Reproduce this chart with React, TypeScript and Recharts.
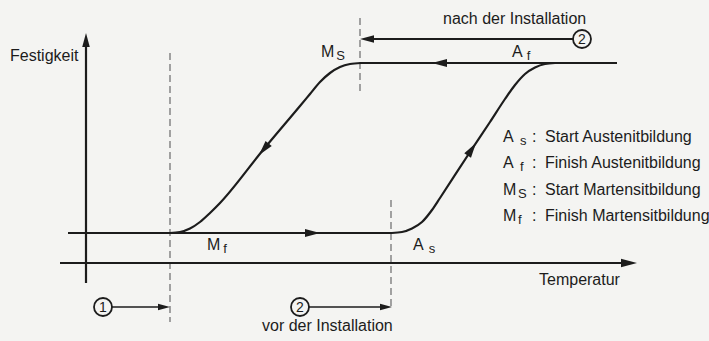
import { ComposedChart, Line, Scatter, XAxis, YAxis } from "recharts";

// Schematic coordinates of the diagram (x grows with temperature, y grows downward like the picture)
const coolingCurve = [
  { x: 170, y: 233 }, { x: 180, y: 232 }, { x: 190, y: 228.5 }, { x: 200, y: 222 },
  { x: 210, y: 213 }, { x: 220, y: 203 }, { x: 263, y: 150 }, { x: 300, y: 106 },
  { x: 310, y: 94 }, { x: 320, y: 82 }, { x: 330, y: 73 }, { x: 340, y: 67 },
  { x: 350, y: 64 }, { x: 361, y: 63 },
];
const heatingCurve = [
  { x: 392, y: 233 }, { x: 402, y: 232 }, { x: 412, y: 228.5 }, { x: 422, y: 222 },
  { x: 432, y: 210 }, { x: 440, y: 198 }, { x: 470, y: 152 }, { x: 490, y: 122 },
  { x: 505, y: 99 }, { x: 515, y: 85 }, { x: 525, y: 74 }, { x: 535, y: 67.5 },
  { x: 545, y: 64 }, { x: 555, y: 63 },
];
const lowBranch = [{ x: 68, y: 233 }, { x: 392, y: 233 }];
const highBranch = [{ x: 360, y: 63 }, { x: 617, y: 63 }];
const strengthAxis = [{ x: 86, y: 283 }, { x: 86, y: 40 }];
const temperatureAxis = [{ x: 60, y: 263 }, { x: 628, y: 263 }];

const dashedMf = [{ x: 170, y: 53 }, { x: 170, y: 322 }];
const dashedMs = [{ x: 360, y: 18 }, { x: 360, y: 93 }];
const dashedAs = [{ x: 391, y: 200 }, { x: 391, y: 310 }];

const shaftOne = [{ x: 112, y: 307 }, { x: 162, y: 307 }];
const shaftTwoBefore = [{ x: 309, y: 307 }, { x: 384, y: 307 }];
const shaftTwoAfter = [{ x: 573, y: 39 }, { x: 368, y: 39 }];

const arrowHeads = [
  { x: 86, y: 33, angle: -90, size: 14 },
  { x: 637, y: 263, angle: 0, size: 16 },
  { x: 320, y: 233, angle: 0, size: 15 },
  { x: 432, y: 63, angle: 180, size: 15 },
  { x: 259, y: 155, angle: 130, size: 15 },
  { x: 476, y: 143, angle: -56, size: 15 },
  { x: 170, y: 307, angle: 0, size: 12 },
  { x: 392, y: 307, angle: 0, size: 12 },
  { x: 360, y: 39, angle: 180, size: 14 },
];

const markers = [
  { x: 103, y: 307, num: "1" },
  { x: 300, y: 307, num: "2" },
  { x: 582, y: 39, num: "2" },
];

const labels = [
  { x: 10, y: 61, main: "Festigkeit", sub: "", subDx: 0 },
  { x: 539, y: 285, main: "Temperatur", sub: "", subDx: 0 },
  { x: 443, y: 24, main: "nach der Installation", sub: "", subDx: 0 },
  { x: 262, y: 331, main: "vor der Installation", sub: "", subDx: 0 },
  { x: 321, y: 57, main: "M", sub: "S", subDx: 2 },
  { x: 512, y: 57, main: "A", sub: "f", subDx: 4 },
  { x: 207, y: 250, main: "M", sub: "f", subDx: 3 },
  { x: 413, y: 250, main: "A", sub: "s", subDx: 5 },
];

const legendSymbols = ["A", "A", "M", "M"];
const legendSubs = ["s", "f", "S", "f"];
const legendTexts = [
  "Start Austenitbildung",
  "Finish Austenitbildung",
  "Start Martensitbildung",
  "Finish Martensitbildung",
];
const legendRows = legendTexts.map((t, i) => ({
  x: 503,
  y: 142 + i * 26.3,
  main: legendSymbols[i],
  sub: legendSubs[i],
  text: t,
}));

const INK = "#1c1c1c";
const FONT = "'Liberation Sans', Arial, Helvetica, sans-serif";

function ArrowHead(p: any) {
  const { cx, cy, payload } = p;
  const L = payload.size;
  const w = L * 0.27;
  return (
    <polygon
      points={`0,0 ${-L},${-w} ${-L},${w}`}
      transform={`translate(${cx},${cy}) rotate(${payload.angle})`}
      fill={INK}
    />
  );
}

function NumberMarker(p: any) {
  const { cx, cy, payload } = p;
  return (
    <g>
      <circle cx={cx} cy={cy} r={9} fill="#f4f4f2" stroke={INK} strokeWidth={1.8} />
      <text x={cx} y={cy + 5} textAnchor="middle" fontSize={14} fontFamily={FONT} fill={INK}>
        {payload.num}
      </text>
    </g>
  );
}

function TextLabel(p: any) {
  const { cx, cy, payload } = p;
  return (
    <text x={cx} y={cy} fontSize={16} fontFamily={FONT} fill={INK}>
      {payload.main}
      {payload.sub ? (
        <tspan dx={payload.subDx} dy={3} fontSize={13}>
          {payload.sub}
        </tspan>
      ) : null}
    </text>
  );
}

function LegendRow(p: any) {
  const { cx, cy, payload } = p;
  const subX = payload.main === "M" ? cx + 15 : cx + 17;
  return (
    <g fontFamily={FONT} fill={INK}>
      <text x={cx} y={cy} fontSize={16}>{payload.main}</text>
      <text x={subX} y={cy + 3} fontSize={13}>{payload.sub}</text>
      <text x={cx + 29} y={cy} fontSize={16}>:</text>
      <text x={cx + 42} y={cy} fontSize={16}>{payload.text}</text>
    </g>
  );
}

const solid = { stroke: INK, dot: false, activeDot: false, isAnimationActive: false } as const;
const dashed = {
  stroke: "#8c8c8c",
  strokeWidth: 1.6,
  strokeDasharray: "7 4",
  dot: false,
  activeDot: false,
  isAnimationActive: false,
} as const;

export default function App() {
  return (
    <div style={{ position: "absolute", left: 0, top: 0, width: 709, height: 341, background: "#f4f4f2" }}>
      <ComposedChart width={709} height={341} margin={{ top: 0, right: 0, bottom: 0, left: 0 }}>
        <XAxis type="number" dataKey="x" domain={[0, 709]} hide allowDataOverflow />
        <YAxis type="number" dataKey="y" domain={[0, 341]} reversed hide allowDataOverflow />

        <Line data={dashedMf} dataKey="y" {...dashed} />
        <Line data={dashedMs} dataKey="y" {...dashed} />
        <Line data={dashedAs} dataKey="y" {...dashed} />

        <Line data={strengthAxis} dataKey="y" strokeWidth={2.2} {...solid} />
        <Line data={temperatureAxis} dataKey="y" strokeWidth={2.2} {...solid} />
        <Line data={lowBranch} dataKey="y" strokeWidth={2.2} {...solid} />
        <Line data={highBranch} dataKey="y" strokeWidth={2.2} {...solid} />
        <Line data={coolingCurve} dataKey="y" type="monotone" strokeWidth={2.2} {...solid} />
        <Line data={heatingCurve} dataKey="y" type="monotone" strokeWidth={2.2} {...solid} />

        <Line data={shaftOne} dataKey="y" strokeWidth={1.6} {...solid} />
        <Line data={shaftTwoBefore} dataKey="y" strokeWidth={1.6} {...solid} />
        <Line data={shaftTwoAfter} dataKey="y" strokeWidth={1.8} {...solid} />

        <Scatter data={arrowHeads} shape={ArrowHead} isAnimationActive={false} />
        <Scatter data={markers} shape={NumberMarker} isAnimationActive={false} />
        <Scatter data={labels} shape={TextLabel} isAnimationActive={false} />
        <Scatter data={legendRows} shape={LegendRow} isAnimationActive={false} />
      </ComposedChart>
    </div>
  );
}
